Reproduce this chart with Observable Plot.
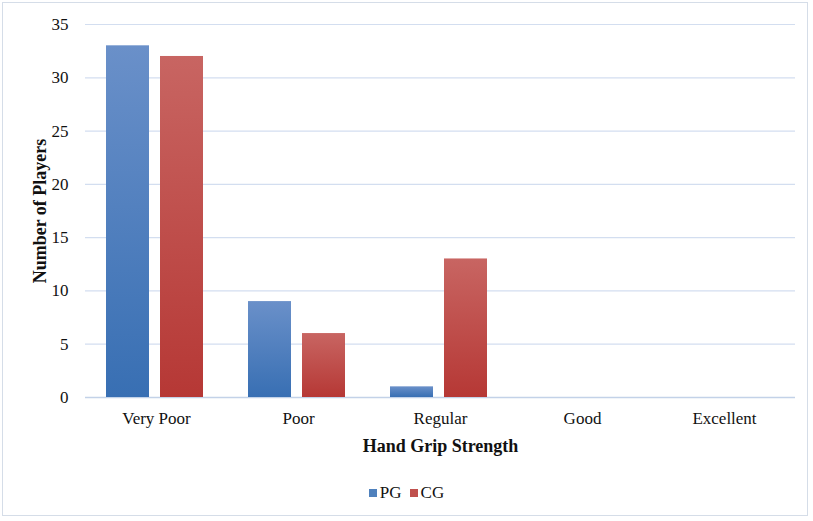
<!DOCTYPE html>
<html>
<head>
<meta charset="utf-8">
<script src="https://cdn.jsdelivr.net/npm/d3@7"></script>
<script src="https://cdn.jsdelivr.net/npm/@observablehq/plot@0.6"></script>
<style>
  html, body { margin: 0; padding: 0; background: #fff; }
  #wrap { position: relative; width: 813px; height: 521px; font-family: "Liberation Serif", "Times New Roman", serif; }
  #frame { position: absolute; left: 2px; top: 2px; width: 806px; height: 514px; border: 1.5px solid #d5dde8; box-sizing: border-box; }
  #chart { position: absolute; left: 0; top: 0; }
  #chart svg, #chart svg text { font-family: "Liberation Serif", "Times New Roman", serif !important; }
  #legend { position: absolute; left: 0; top: 483px; width: 813px; text-align: center; font-size: 17px; color: #111; }
  #legend span.sw { display: inline-block; width: 8px; height: 8px; margin-right: 3px; vertical-align: 1px; }
  #legend span.item { margin: 0 4px; }
</style>
</head>
<body>
<div id="wrap">
  <div id="frame"></div>
  <div id="chart"></div>
  <div id="legend"></div>
</div>
<script>
const categories = ["Very Poor", "Poor", "Regular", "Good", "Excellent"];
const seriesNames = ["PG", "CG"];
const pgValues = [33, 9, 1, 0, 0];
const cgValues = [32, 6, 13, 0, 0];
const yTicks = [0, 5, 10, 15, 20, 25, 30, 35];
const seriesColors = { PG: "#4F81BD", CG: "#C0504D" };

const pgData = categories.map((c, i) => ({ category: c, series: "PG", value: pgValues[i] }));
const cgData = categories.map((c, i) => ({ category: c, series: "CG", value: cgValues[i] }));

const serif = "'Liberation Serif', 'Times New Roman', serif";

const plot = Plot.plot({
  width: 813,
  height: 460,
  marginLeft: 85,
  marginRight: 18,
  marginTop: 24,
  marginBottom: 63,
  style: { fontFamily: serif, fontSize: "17px", color: "#111", background: "transparent" },
  x: { domain: categories, padding: 0, round: false },
  y: { domain: [0, 35] },
  marks: [
    Plot.ruleY(yTicks.filter(d => d > 0), { stroke: "#d3def0", strokeWidth: 1.2 }),
    Plot.ruleY([0], { stroke: "#c3d2e8", strokeWidth: 1.4 }),
    Plot.barY(pgData.filter(d => d.value > 0), { x: "category", y: "value", fill: "url(#gradPG)", insetLeft: 21, insetRight: 78 }),
    Plot.barY(cgData.filter(d => d.value > 0), { x: "category", y: "value", fill: "url(#gradCG)", insetLeft: 75, insetRight: 24 }),
    Plot.axisY({ ticks: yTicks, tickSize: 0, tickPadding: 17, label: "Number of Players", labelAnchor: "center", labelArrow: false, labelOffset: 52, fontSize: 17, fontFamily: serif }),
    Plot.axisX({ tickSize: 0, tickPadding: 14, label: "Hand Grip Strength", labelAnchor: "center", labelArrow: false, labelOffset: 54, fontSize: 17, fontFamily: serif })
  ]
});

// gradients
const svg = d3.select(plot);
const defs = svg.insert("defs", ":first-child");
function grad(id, top, bottom) {
  const g = defs.append("linearGradient").attr("id", id).attr("x1", 0).attr("y1", 0).attr("x2", 0).attr("y2", 1);
  g.append("stop").attr("offset", "0%").attr("stop-color", top);
  g.append("stop").attr("offset", "100%").attr("stop-color", bottom);
}
grad("gradPG", "#6a90c9", "#386fb3");
grad("gradCG", "#c86562", "#b63835");

// bold axis labels
svg.selectAll("[aria-label='y-axis label'] text, [aria-label='x-axis label'] text")
  .style("font-weight", "bold").style("font-size", "18px");

document.getElementById("chart").appendChild(plot);

const legend = document.getElementById("legend");
seriesNames.forEach(s => {
  const item = document.createElement("span");
  item.className = "item";
  const sw = document.createElement("span");
  sw.className = "sw";
  sw.style.background = seriesColors[s];
  item.appendChild(sw);
  item.appendChild(document.createTextNode(s));
  legend.appendChild(item);
});
</script>
</body>
</html>
